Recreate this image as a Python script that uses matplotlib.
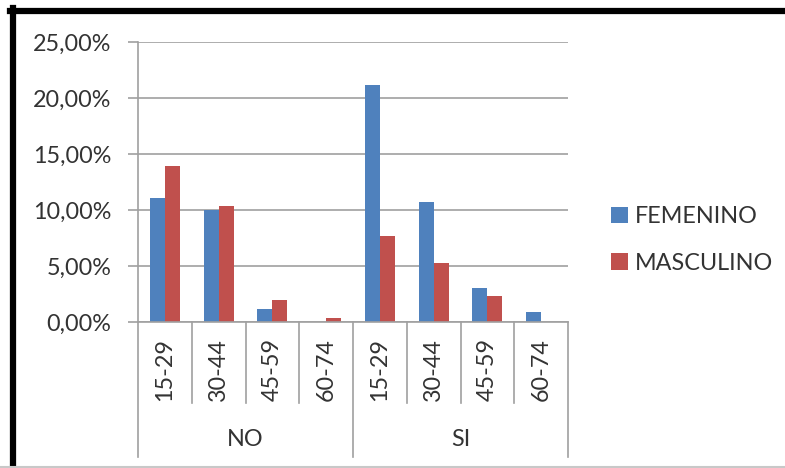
import numpy as np
import matplotlib.pyplot as plt
from matplotlib.lines import Line2D
from matplotlib.ticker import FuncFormatter

plt.rcParams['font.family'] = ['Lato', 'DejaVu Sans']

# data
groups = ['NO', 'SI']
ages = ['15-29', '30-44', '45-59', '60-74']
femenino = [11.1, 10.0, 1.15, 0.0, 21.15, 10.75, 3.0, 0.85]
masculino = [13.95, 10.4, 2.0, 0.35, 7.7, 5.3, 2.3, 0.0]
yticks = [0, 5, 10, 15, 20, 25]

blue = '#4f81bd'
red = '#c0504d'
grid = '#a0a0a0'
txt = '#333333'
fs = 16.8

W, H = 785, 468
fig = plt.figure(figsize=(W/100, H/100), dpi=100)
fig.patch.set_facecolor('white')

# frame of the screenshot
fig.add_artist(Line2D([10/W, 1], [1-10.5/H, 1-10.5/H], color='black', lw=4.5))
fig.add_artist(Line2D([13/W, 13/W], [0, 1-8/H], color='black', lw=4.5))
fig.add_artist(Line2D([0, 1], [1.5/H, 1.5/H], color='#c8c8c8', lw=1.5))

ax = fig.add_axes([138/W, 1-322/H, (568-138)/W, 280/H])

n = len(groups) * len(ages)
x = np.arange(n)
bw = 0.28
ax.bar(x - bw/2, femenino, bw, color=blue, label='FEMENINO', zorder=3)
ax.bar(x + bw/2, masculino, bw, color=red, label='MASCULINO', zorder=3)

ax.set_xlim(-0.5, n - 0.5)
ax.set_ylim(0, 25)
ax.set_yticks(yticks)
ax.yaxis.set_major_formatter(FuncFormatter(lambda v, p: f'{v:.2f}%'.replace('.', ',')))
ax.tick_params(axis='y', length=7, width=1.2, color=grid, pad=12, labelsize=fs, labelcolor=txt)
ax.set_xticks([])
for s in ['top', 'right', 'bottom']:
    ax.spines[s].set_visible(False)
ax.spines['left'].set_color(grid)
ax.spines['left'].set_linewidth(1.2)
ax.grid(axis='y', color=grid, lw=1.2, zorder=0)
ax.axhline(0, color=grid, lw=1.2, zorder=4, clip_on=False)

# multi-level category axis
tr = ax.get_xaxis_transform()
for i in range(n + 1):
    bottom = -0.482 if i % len(ages) == 0 else -0.289
    ax.plot([i - 0.5, i - 0.5], [0, bottom], color=grid, lw=1.2, transform=tr, clip_on=False)
for i in range(n):
    ax.text(i, -0.171, ages[i % len(ages)], rotation=90, ha='center', va='center',
            fontsize=fs, color=txt, transform=tr)
for g, name in enumerate(groups):
    cx = g * len(ages) + (len(ages) - 1) / 2
    ax.text(cx, -0.418, name, ha='center', va='center', fontsize=fs, color=txt, transform=tr)

fig.legend(loc='center left', bbox_to_anchor=(602/W, 1-240/H), frameon=False,
           fontsize=fs, handlelength=0.7, handleheight=0.7, handletextpad=0.3,
           labelspacing=1.1, labelcolor=txt, borderaxespad=0)

fig.savefig('out.png', dpi=100)
